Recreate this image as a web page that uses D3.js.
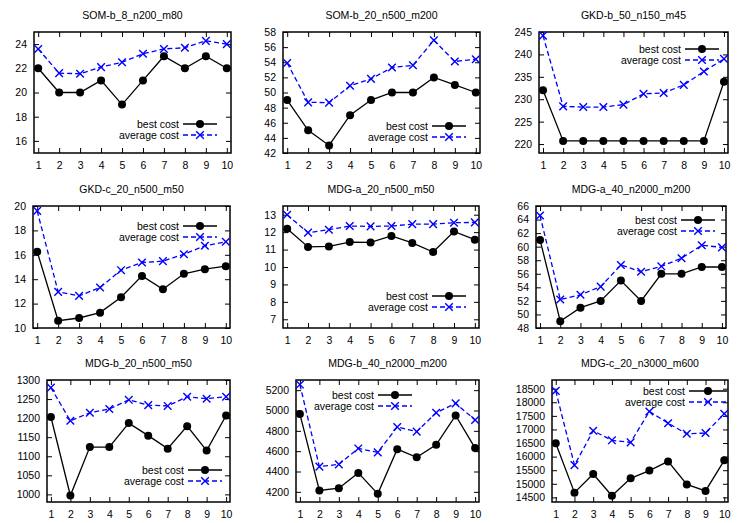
<!DOCTYPE html>
<html><head><meta charset="utf-8">
<script src="https://cdn.jsdelivr.net/npm/d3@7"></script>
<style>
body{margin:0;background:#fff;}
svg{display:block;font-family:"Liberation Sans",Arial,sans-serif;}
</style></head>
<body><svg id="chart" width="747" height="523"></svg>
<script>
// ---- data ----
const iterations = [1,2,3,4,5,6,7,8,9,10];
const titles = ["SOM-b_8_n200_m80","SOM-b_20_n500_m200","GKD-b_50_n150_m45",
  "GKD-c_20_n500_m50","MDG-a_20_n500_m50","MDG-a_40_n2000_m200",
  "MDG-b_20_n500_m50","MDG-b_40_n2000_m200","MDG-c_20_n3000_m600"];
const seriesNames = ["best cost","average cost"];

const best1 = [22,20,20,21,19,21,23,22,23,22];
const avg1  = [23.6,21.6,21.55,22.1,22.5,23.2,23.6,23.7,24.27,24.0];
const best2 = [49,45,43,47,49,50,50,52,51,50];
const avg2  = [53.9,48.7,48.66,50.9,51.8,53.3,53.6,56.9,54.1,54.4];
const best3 = [232,220.7,220.7,220.7,220.7,220.7,220.7,220.7,220.7,233.9];
const avg3  = [244.2,228.4,228.25,228.25,228.8,231.2,231.4,233.2,236.2,239.0];
const best4 = [16.25,10.6,10.82,11.26,12.52,14.27,13.18,14.44,14.82,15.07];
const avg4  = [19.6,12.96,12.63,13.32,14.74,15.37,15.48,16.05,16.74,17.07];
const best5 = [12.2,11.15,11.18,11.43,11.41,11.78,11.38,10.86,12.04,11.57];
const avg5  = [13.0,11.97,12.14,12.35,12.33,12.35,12.46,12.46,12.54,12.56];
const best6 = [61,49,51,52,55,52,56,56,57,57];
const avg6  = [64.6,52.2,52.9,54.1,57.3,56.3,57.1,58.3,60.2,59.9];
const best7 = [1203,997,1124,1124,1187,1154,1120,1179,1115,1207];
const avg7  = [1280,1193,1214,1224,1248,1234,1232,1256,1251,1256];
const best8 = [4965,4213,4236,4386,4180,4620,4539,4662,4952,4630];
const avg8  = [5255,4448,4470,4627,4588,4838,4792,4978,5070,4907];
const best9 = [16490,14675,15362,14562,15200,15487,15825,14975,14737,15862];
const avg9  = [18420,15687,16950,16600,16525,17663,17230,16840,16870,17577];

const bestCost = [best1,best2,best3,best4,best5,best6,best7,best8,best9];
const avgCost  = [avg1,avg2,avg3,avg4,avg5,avg6,avg7,avg8,avg9];

const yDomains = [[15,25],[42,58],[218,245],[10,20],[6.5,13.5],[48,66],[980,1300],[4100,5300],[14330,18820]];
const yTickStart = [16,42,220,10,7,48,1000,4200,14500];
const yTickStop  = [24,58,245,20,13,66,1300,5200,18500];
const yTickStep  = [2,2,5,2,1,2,50,200,500];
const xDomain = [0.8,10.2];

// ---- layout (positions only) ----
const frames = [ // left, right, top, bottom
  [34,231,32,153],[283,480,32,153],[539,728,32,153],
  [33,230,206,328],[283,479,206,328],[536,726,206,328],
  [47,230,380,502],[296,479,380,502],[552,728,380,502]];
const legendPos = [ // line-end offset from right, row1 offset from top, sample length
  [14,92,34],[14,94,34],[9,17,34],[13,20,34],[13,90,34],[11,14,34],[8,90,34],[67,15,34],[1,11,38]];

const svg = d3.select("#chart");
const FS = "10.5px";
const BLUE = "#0000ff";

function drawX(g, cx, cy, s){
  g.append("path").attr("d",`M${cx-s},${cy-s}L${cx+s},${cy+s}M${cx-s},${cy+s}L${cx+s},${cy-s}`)
   .attr("stroke",BLUE).attr("stroke-width",1.4).attr("fill","none");
}

titles.forEach((title,i)=>{
  const [L,R,T,B] = frames[i];
  const g = svg.append("g");
  const x = d3.scaleLinear().domain(xDomain).range([L,R]);
  const y = d3.scaleLinear().domain(yDomains[i]).range([B,T]);
  const yt = d3.range(yTickStart[i], yTickStop[i]+yTickStep[i]/2, yTickStep[i]);

  // axes via d3 axis, inner ticks
  const axB = d3.axisBottom(x).tickValues(iterations).tickSize(-5).tickPadding(9).tickFormat(d3.format("d"));
  const axT = d3.axisTop(x).tickValues(iterations).tickSize(-5).tickFormat("");
  const axL = d3.axisLeft(y).tickValues(yt).tickSize(-5).tickPadding(7).tickFormat(d3.format("d"));
  const axR = d3.axisRight(y).tickValues(yt).tickSize(-5).tickFormat("");
  [[axB,`translate(0,${B})`],[axT,`translate(0,${T})`],[axL,`translate(${L},0)`],[axR,`translate(${R},0)`]]
   .forEach(([ax,tr])=>{
     const a = g.append("g").attr("transform",tr).call(ax);
     a.select(".domain").remove();
     a.selectAll("line").attr("stroke","#000").attr("stroke-width",1);
     a.selectAll("text").attr("font-size",FS).attr("font-family","Liberation Sans, Arial, sans-serif").attr("fill","#000");
   });

  // frame
  g.append("rect").attr("x",L).attr("y",T).attr("width",R-L).attr("height",B-T)
   .attr("fill","none").attr("stroke","#000").attr("stroke-width",1.5);

  // title
  g.append("text").attr("x",(L+R)/2).attr("y",T-13).attr("text-anchor","middle")
   .attr("font-size",FS).text(title);

  const line = d3.line().x((d,k)=>x(iterations[k])).y(d=>y(d));
  // average (blue dashed)
  g.append("path").datum(avgCost[i]).attr("d",line).attr("fill","none")
   .attr("stroke",BLUE).attr("stroke-width",1.3).attr("stroke-dasharray","5,3");
  avgCost[i].forEach((d,k)=>drawX(g,x(iterations[k]),y(d),3.8));
  // best (black solid)
  g.append("path").datum(bestCost[i]).attr("d",line).attr("fill","none")
   .attr("stroke","#000").attr("stroke-width",1.3);
  g.selectAll("circle.b").data(bestCost[i]).enter().append("circle")
   .attr("cx",(d,k)=>x(iterations[k])).attr("cy",d=>y(d)).attr("r",4).attr("fill","#000");

  // legend
  const [ro,to,len] = legendPos[i];
  const x2 = R-ro, x1 = x2-len, xm = (x1+x2)/2;
  const y1 = T+to, y2 = y1+11;
  g.append("text").attr("x",x1-4).attr("y",y1).attr("dy","0.35em").attr("text-anchor","end")
   .attr("font-size",FS).text(seriesNames[0]);
  g.append("line").attr("x1",x1).attr("x2",x2).attr("y1",y1).attr("y2",y1)
   .attr("stroke","#000").attr("stroke-width",1.3);
  g.append("circle").attr("cx",xm).attr("cy",y1).attr("r",4).attr("fill","#000");
  g.append("text").attr("x",x1-4).attr("y",y2).attr("dy","0.35em").attr("text-anchor","end")
   .attr("font-size",FS).text(seriesNames[1]);
  g.append("line").attr("x1",x1).attr("x2",x2).attr("y1",y2).attr("y2",y2)
   .attr("stroke",BLUE).attr("stroke-width",1.3).attr("stroke-dasharray","5,3");
  drawX(g,xm,y2,3.8);
});
</script></body></html>
